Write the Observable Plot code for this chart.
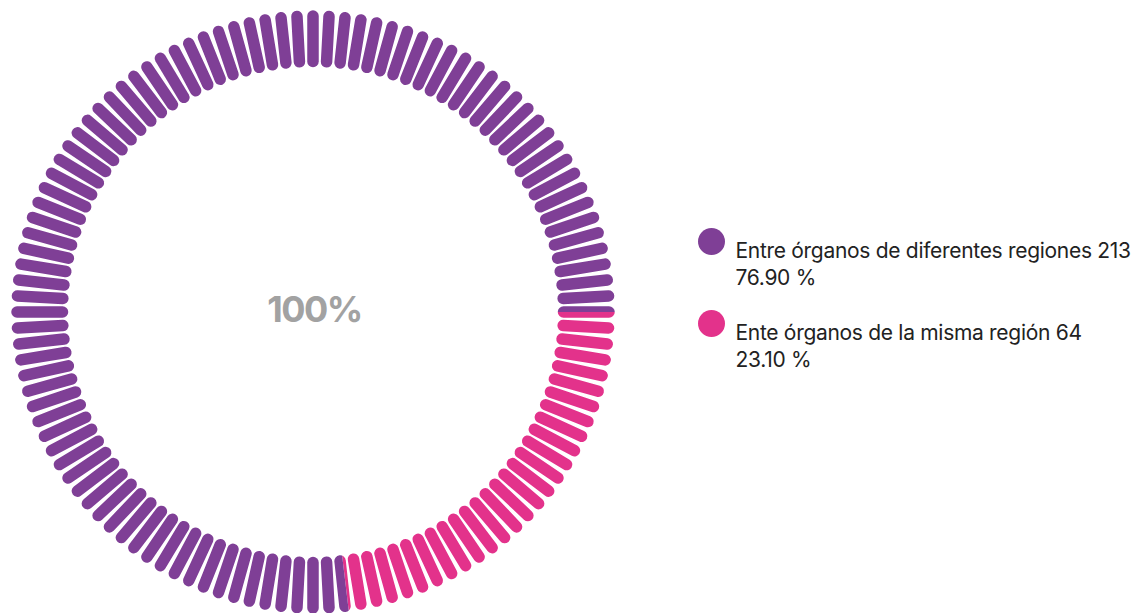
<!DOCTYPE html>
<html>
<head>
<meta charset="utf-8">
<script src="https://cdn.jsdelivr.net/npm/d3@7"></script>
<script src="https://cdn.jsdelivr.net/npm/@observablehq/plot@0.6"></script>
<style>
  html, body { margin: 0; padding: 0; background: #ffffff; }
  #chart svg { display: block; }
</style>
</head>
<body>
<div id="chart"></div>
<script>
// ---- data ----
const categories = ["Entre órganos de diferentes regiones", "Ente órganos de la misma región"];
const counts = [213, 64];
const percentLabels = ["76.90 %", "23.10 %"];
const colors = ["#7f3f96", "#e3328b"];
const centerLabel = "100%";
const tickCount = 116;

// ---- layout ----
const W = 1144, H = 613;
const cx = 312.5, cy = 311.5;
const rInner = 250.5, rOuter = 296, tickWidth = 11.5;
const startAngle = 90;            // degrees, clockwise from 12 o'clock
const drawOrder = [1, 0];         // pink slice starts at 3 o'clock, purple follows

const total = d3.sum(counts);
const slices = [];
let a = startAngle;
for (const i of drawOrder) {
  const span = 360 * counts[i] / total;
  slices.push({i, a0: a, a1: a + span});
  a += span;
}

const rad = d => d * Math.PI / 180;
const ticksAll = d3.range(tickCount).map(k => ({k, angle: k * 360 / tickCount}));
const pad = 2.2;
function ticksFor(s) {
  return ticksAll.filter(t => [t.angle, t.angle + 360].some(v => v >= s.a0 - pad && v <= s.a1 + pad))
    .map(t => ({...t, color: colors[s.i]}));
}

const legendRows = categories.map((c, i) => ({
  i, label: `${c} ${counts[i]}\n${percentLabels[i]}`, color: colors[i]
}));

const marks = slices.map(s => Plot.link(ticksFor(s), {
  x1: t => cx + rInner * Math.sin(rad(t.angle)),
  y1: t => cy - rInner * Math.cos(rad(t.angle)),
  x2: t => cx + rOuter * Math.sin(rad(t.angle)),
  y2: t => cy - rOuter * Math.cos(rad(t.angle)),
  stroke: "color",
  strokeWidth: tickWidth,
  strokeLinecap: "round"
}));

marks.push(
  Plot.text([centerLabel], {
    x: () => cx + 1.5, y: () => cy - 2, text: d => d,
    fontSize: 36, fontWeight: 700, fill: "#a2a2a2", textAnchor: "middle"
  }),
  Plot.dot(legendRows, {
    x: () => 711, y: d => 241 + d.i * 82, r: 13.5, fill: "color", stroke: null
  }),
  Plot.text(legendRows, {
    x: () => 735, y: d => 238 + d.i * 82, text: "label",
    textAnchor: "start", lineAnchor: "top", lineHeight: 1.3,
    fontSize: 21, fill: "#222222"
  })
);

const chart = Plot.plot({
  width: W, height: H, margin: 0,
  x: {type: "linear", domain: [0, W], range: [0, W], axis: null},
  y: {type: "linear", domain: [0, H], range: [0, H], axis: null},
  color: {type: "identity"},
  style: {fontFamily: "Inter, 'Open Sans', sans-serif", background: "white", overflow: "visible"},
  marks
});

// clip each slice's ticks to its wedge so boundary ticks are split
const sx = chart.scale("x"), sy = chart.scale("y");
const svgNS = "http://www.w3.org/2000/svg";
const defs = document.createElementNS(svgNS, "defs");
chart.insertBefore(defs, chart.firstChild);
const linkGroups = chart.querySelectorAll('g[aria-label="link"]');
slices.forEach((s, j) => {
  const R = 340;
  const pt = ang => [sx.apply(cx + R * Math.sin(rad(ang))), sy.apply(cy - R * Math.cos(rad(ang)))];
  const p0 = pt(s.a0), p1 = pt(s.a1);
  const large = (s.a1 - s.a0) > 180 ? 1 : 0;
  const cp = document.createElementNS(svgNS, "clipPath");
  cp.setAttribute("id", "slice-clip-" + j);
  const path = document.createElementNS(svgNS, "path");
  path.setAttribute("d", `M${sx.apply(cx)},${sy.apply(cy)}L${p0[0]},${p0[1]}A${R},${R} 0 ${large} 1 ${p1[0]},${p1[1]}Z`);
  cp.appendChild(path);
  defs.appendChild(cp);
  if (linkGroups[j]) linkGroups[j].setAttribute("clip-path", `url(#slice-clip-${j})`);
});

// tighter tracking for text, as in the reference
chart.querySelectorAll('g[aria-label="text"]').forEach((g, j) => {
  g.setAttribute("letter-spacing", j === 0 ? "-1.5px" : "-0.3px");
});

document.getElementById("chart").appendChild(chart);
</script>
</body>
</html>
